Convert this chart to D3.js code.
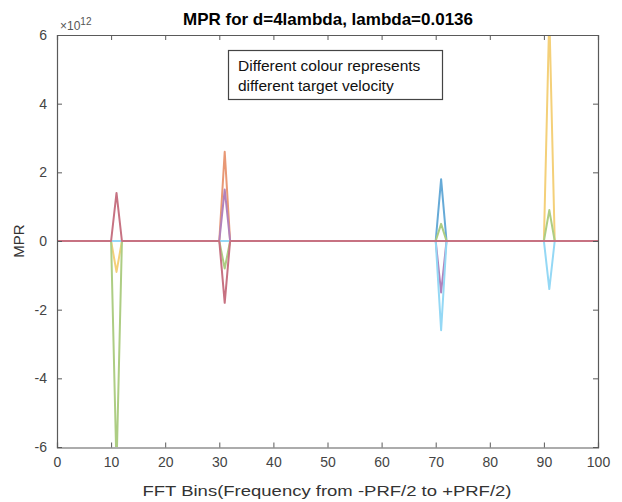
<!DOCTYPE html>
<html>
<head>
<meta charset="utf-8">
<script src="https://cdn.jsdelivr.net/npm/d3@7"></script>
<style>
  html, body { margin: 0; padding: 0; background: #fff; }
  svg { display: block; font-family: "Liberation Sans", Arial, Helvetica, sans-serif; }
</style>
</head>
<body>
<svg id="chart" width="622" height="502"></svg>
<script>
// ---- data (MPR values, in units of 1e12) ----
const fftBins = d3.range(0, 101);            // x positions 0..100
const spikeBins = [11, 31, 71, 91];          // bins where the spikes occur
const seriesNames = ["v1", "v2", "v3", "v4", "v5", "v6", "v7"];
const seriesColors = ["#0072BD", "#D95319", "#EDB120", "#7E2F8E", "#77AC30", "#4DBEEE", "#A2142F"];
// values at spikeBins for each series (zero at every other bin)
const s1 = [0, 0, 1.8, 0];
const s2 = [0, 2.6, 0, 0];
const s3 = [-0.9, 0, 0, 6.6];
const s4 = [0, 1.5, -1.5, 0];
const s5 = [-6.6, -0.8, 0.5, 0.9];
const s6 = [0, 0, -2.6, -1.4];
const s7 = [1.4, -1.8, 0, 0];
const seriesValues = [s1, s2, s3, s4, s5, s6, s7];
const xTicks = [0, 10, 20, 30, 40, 50, 60, 70, 80, 90, 100];
const yTicks = [-6, -4, -2, 0, 2, 4, 6];
const yExponent = 12;

// ---- layout ----
const svg = d3.select("#chart");
const mLeft = 57, mRight = 598, mTop = 35, mBottom = 447;
const x = d3.scaleLinear().domain([0, 100]).range([mLeft, mRight]);
const y = d3.scaleLinear().domain([-6, 6]).range([mBottom, mTop]);
const axisColor = "#5a5a5a";

svg.append("rect").attr("x", 0).attr("y", 0).attr("width", 622).attr("height", 502).attr("fill", "#fff");

svg.append("defs").append("clipPath").attr("id", "clip")
  .append("rect").attr("x", mLeft).attr("y", mTop).attr("width", mRight - mLeft).attr("height", mBottom - mTop);

// ---- lines ----
const line = d3.line().x(d => x(d[0])).y(d => y(d[1]));
const plot = svg.append("g").attr("clip-path", "url(#clip)");
seriesValues.forEach((vals, i) => {
  const pts = fftBins.map(b => {
    const k = spikeBins.indexOf(b);
    return [b, k >= 0 ? vals[k] : 0];
  });
  plot.append("path").datum(pts)
    .attr("fill", "none")
    .attr("stroke", d3.interpolateRgb(seriesColors[i], "#fff")(0.4))
    .attr("stroke-width", 2)
    .attr("stroke-linejoin", "round")
    .attr("d", line);
});

// ---- axes (box with inward ticks) ----
const tickLen = 5;
const fmt = d => String(d);
const axB = svg.append("g").attr("transform", `translate(0,${mBottom + 0.5})`)
  .call(d3.axisBottom(x).tickValues(xTicks).tickSize(-tickLen).tickPadding(10).tickFormat(fmt));
const axT = svg.append("g").attr("transform", `translate(0,${mTop})`)
  .call(d3.axisTop(x).tickValues(xTicks).tickSize(-tickLen).tickFormat(""));
const axL = svg.append("g").attr("transform", `translate(${mLeft},0)`)
  .call(d3.axisLeft(y).tickValues(yTicks).tickSize(-tickLen).tickPadding(10).tickFormat(fmt));
const axR = svg.append("g").attr("transform", `translate(${mRight},0)`)
  .call(d3.axisRight(y).tickValues(yTicks).tickSize(-tickLen).tickFormat(""));
[axB, axT, axL, axR].forEach(g => {
  g.select(".domain").attr("stroke", axisColor).attr("stroke-width", 1.2);
  g.selectAll(".tick line").attr("stroke", axisColor);
  g.selectAll(".tick text").attr("fill", "#444").style("font-size", "14px")
    .style("font-family", "'Liberation Sans', Arial, sans-serif");
});

// exponent label
const expText = svg.append("text").attr("x", mLeft + 3).attr("y", mTop - 5)
  .attr("fill", "#555").style("font-size", "12px");
expText.append("tspan").text("\u00d710");
expText.append("tspan").attr("dy", -5).style("font-size", "10px").text(yExponent);

// title
svg.append("text").attr("x", 328).attr("y", 25)
  .attr("text-anchor", "middle").attr("fill", "#000")
  .style("font-size", "17px").style("font-weight", "bold")
  .text("MPR for d=4lambda, lambda=0.0136");

// axis labels
svg.append("text").attr("x", 327).attr("y", 496)
  .attr("text-anchor", "middle").attr("fill", "#333").style("font-size", "15px")
  .attr("textLength", 369).attr("lengthAdjust", "spacingAndGlyphs")
  .text("FFT Bins(Frequency from -PRF/2 to +PRF/2)");
svg.append("text").attr("transform", `translate(24,${y(0)}) rotate(-90)`)
  .attr("text-anchor", "middle").attr("fill", "#333").style("font-size", "15px")
  .text("MPR");

// annotation box
const noteLines = ["Different colour represents", "different target velocity"];
svg.append("rect").attr("x", 228.5).attr("y", 50.5).attr("width", 214).attr("height", 49)
  .attr("fill", "#fff").attr("stroke", "#444").attr("stroke-width", 1.2);
noteLines.forEach((t, i) => {
  svg.append("text").attr("x", 238).attr("y", 71 + i * 20)
    .attr("fill", "#111").style("font-size", "15.5px")
    .text(t);
});
</script>
</body>
</html>
